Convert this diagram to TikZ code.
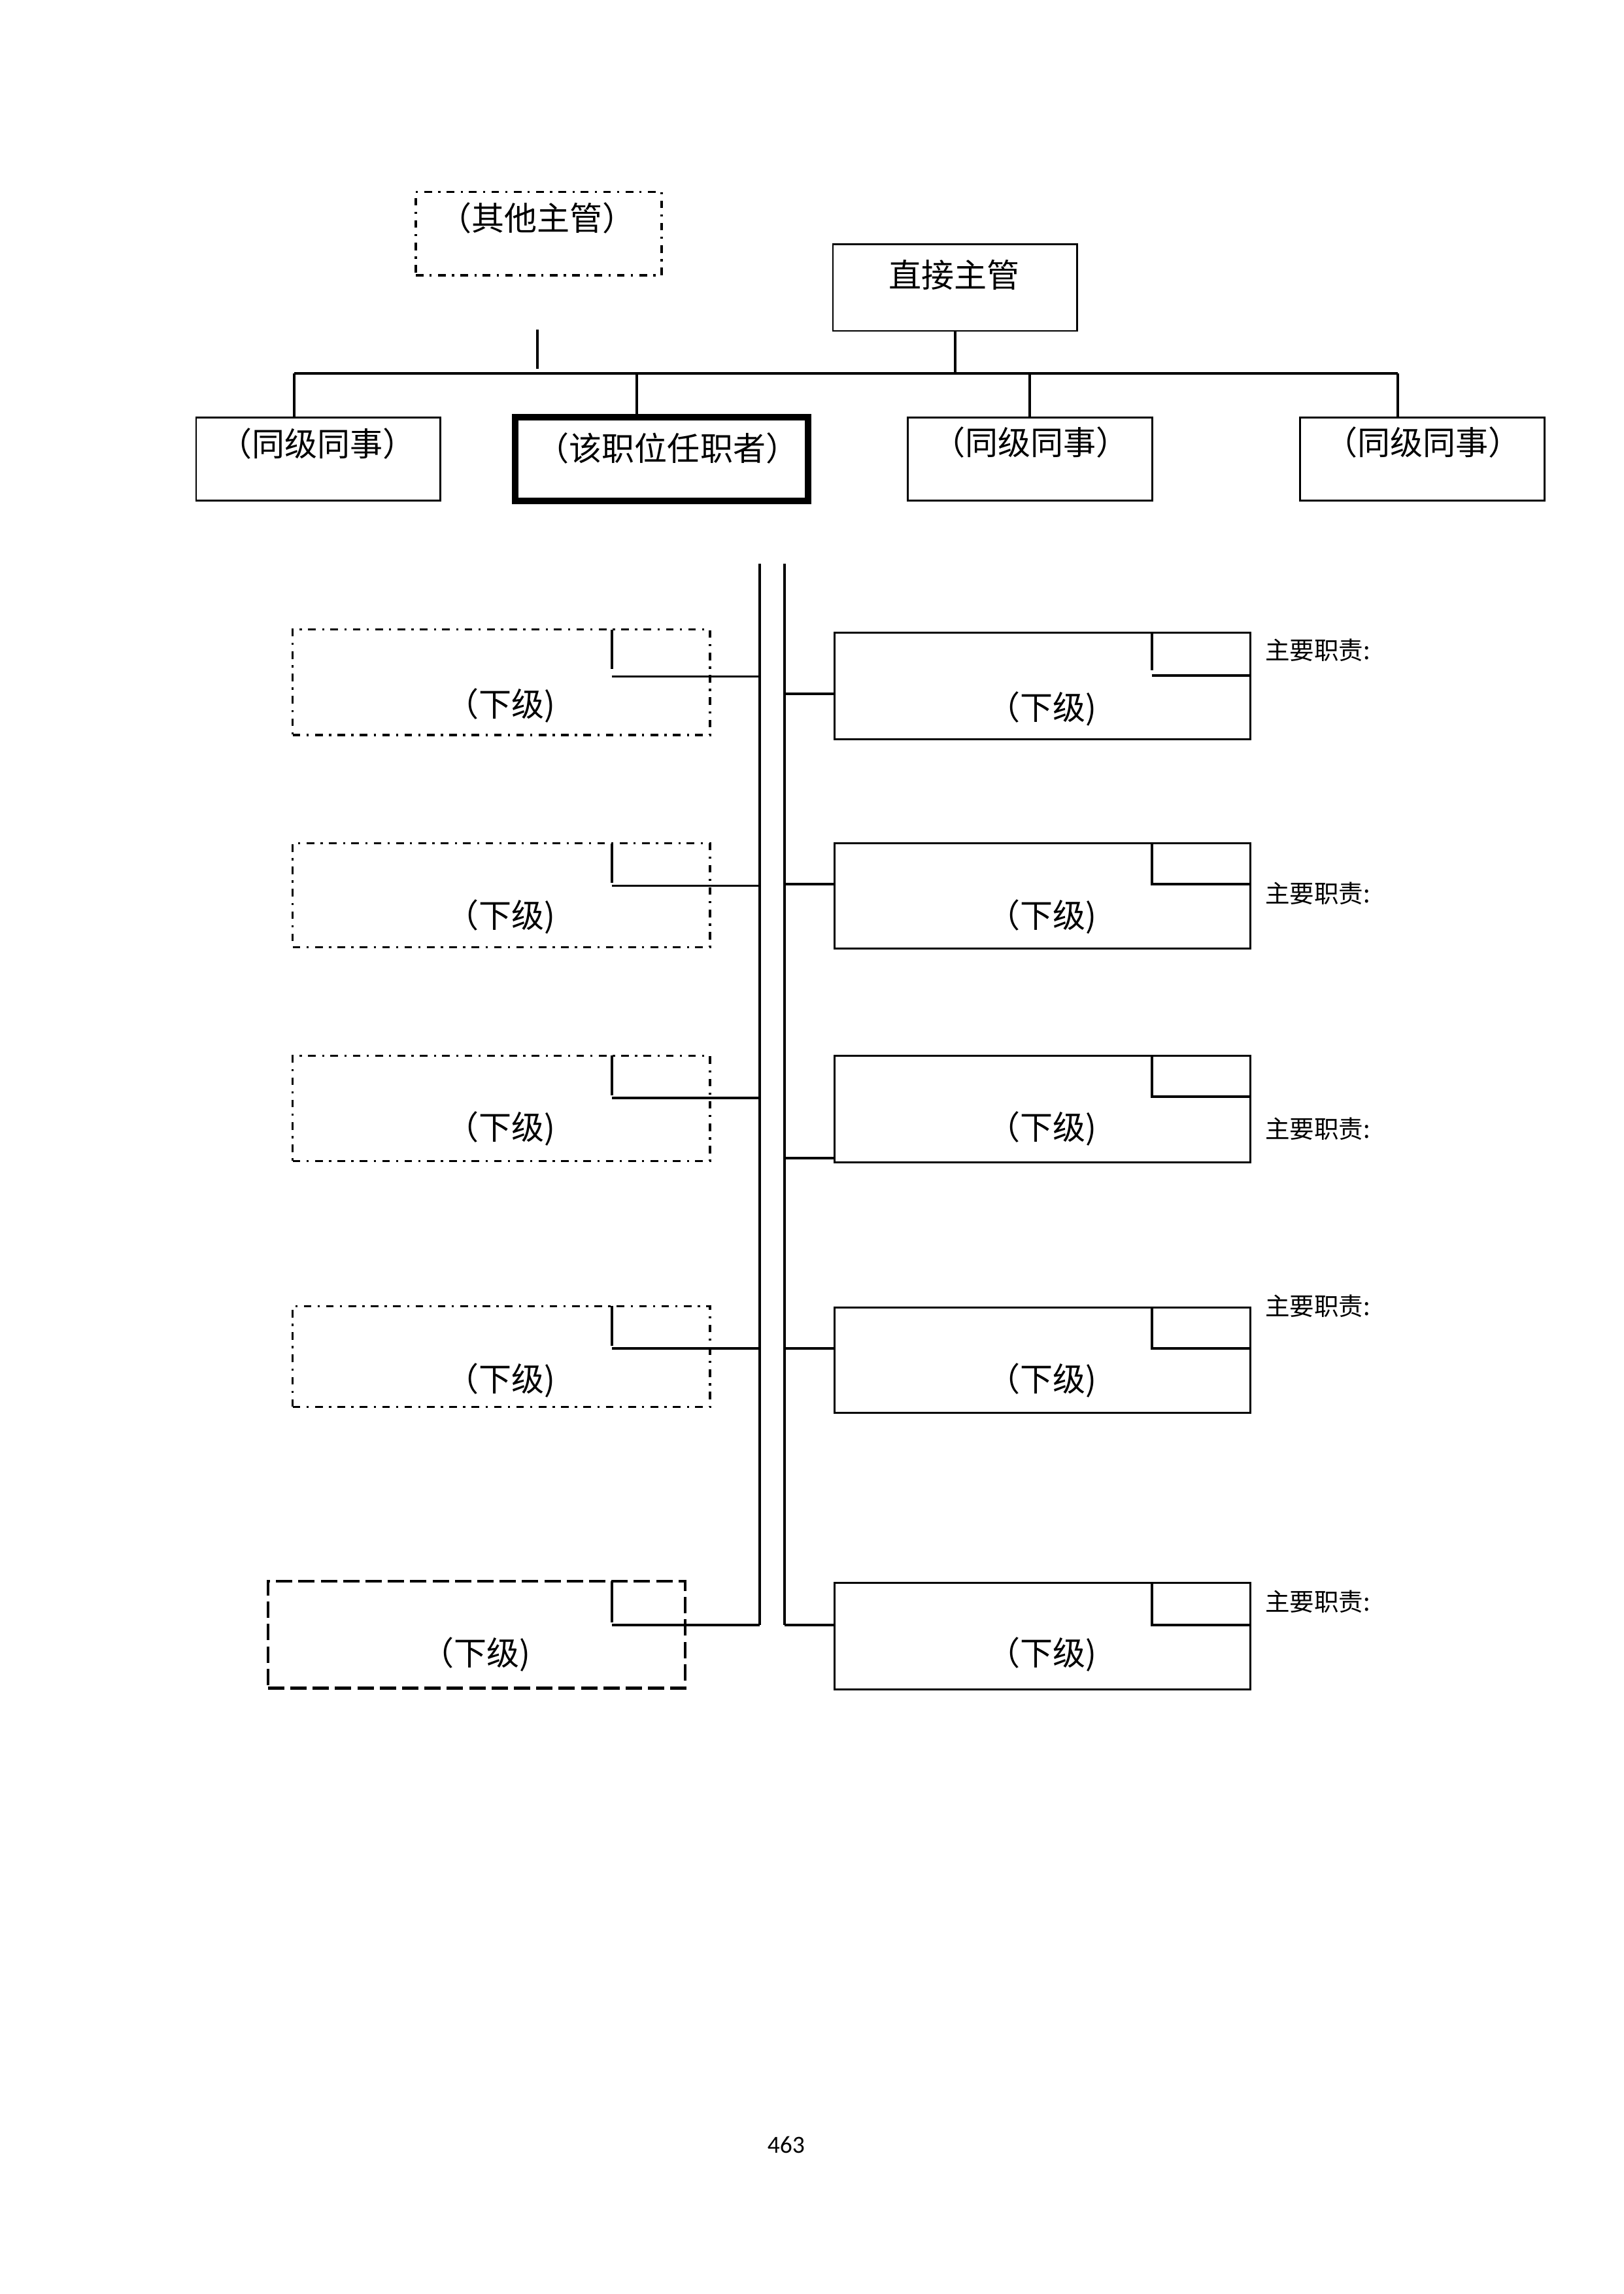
\documentclass[tikz,border=0pt]{standalone}
\usepackage{fontspec}
\setmainfont{Carlito}
\newfontfamily\cjk{Noto Sans CJK SC}
\tikzset{
  box/.style 2 args={draw, line width=0.7pt, anchor=north west, inner sep=0pt, outer sep=0pt,
    minimum width=#1*0.5368pt, minimum height=#2*0.5368pt},
  dashdot/.style={line width=0.8pt, dash pattern=on 2.8pt off 2.3pt on 0.8pt off 2.3pt},
  dashbox/.style={line width=1pt, dash pattern=on 6pt off 2.2pt},
  thickbox/.style={line width=2.5pt},
  txt/.style={font=\cjk\fontsize{12}{14}\selectfont, inner sep=0pt},
  duty/.style={font=\cjk\fontsize{9}{11}\selectfont, inner sep=0pt, anchor=west},
  conn/.style={line width=0.9pt}
}
\begin{document}
\begin{tikzpicture}[x=0.5368pt, y=-0.5368pt]
\useasboundingbox (0,0) rectangle (1109,1566.8);
% top row
\node[box={168}{57}, dashdot] (oth) at (284,131){};
\node[txt] (othtxt) at (367,149){（其他主管）};
\node[box={167}{59}] (boss) at (569,167){};
\node[txt] (bosstxt) at (652,188){直接主管};
\node[box={167}{57}] (peer1) at (134,285){};
\node[txt] (peer1txt) at (217,303){（同级同事）};
\node[box={200}{57}, thickbox] (self) at (352,285){};
\node[txt] (selftxt) at (456,306){（该职位任职者）};
\node[box={167}{57}] (peer2) at (620,285){};
\node[txt] (peer2txt) at (704,302){（同级同事）};
\node[box={167}{57}] (peer3) at (888,285){};
\node[txt] (peer3txt) at (972,302){（同级同事）};
\coordinate (busL) at (201,255);
\coordinate (busR) at (955,255);
\coordinate (busS) at (435,255);
\coordinate (othT) at (367,225);
\coordinate (othB) at (367,252);
\draw[conn](busL) -- (busR);
\draw[conn](boss.south) -- (boss.south |- busL);
\draw[conn](busL) -- (busL |- peer1.north);
\draw[conn](busS) -- (busS |- self.north);
\draw[conn](peer2.north |- busL) -- (peer2.north);
\draw[conn](busR) -- (busR |- peer3.north);
\draw[conn](othT) -- (othB);
% spines
\coordinate (spL) at (519,385);
\coordinate (spLb) at (519,1110);
\coordinate (spR) at (536,385);
\coordinate (spRb) at (536,1110);
\draw[conn](spL) -- (spLb);
\draw[conn](spR) -- (spRb);
% left column
\node[box={285}{72}, dashdot] (sub1) at (200,430){};
\node[txt] (sub1txt) at (342,482){（下级)};
\coordinate (sub1k) at (418,462);
\draw[conn](sub1k |- sub1.north) -- ++(0,27);
\draw[conn](sub1k) -- (sub1k -| spL);
\node[box={285}{71}, dashdot] (sub2) at (200,576){};
\node[txt] (sub2txt) at (342,626){（下级)};
\coordinate (sub2k) at (418,605);
\draw[conn](sub2k |- sub2.north) -- ++(0,27);
\draw[conn](sub2k) -- (sub2k -| spL);
\node[box={285}{72}, dashdot] (sub3) at (200,721){};
\node[txt] (sub3txt) at (342,771){（下级)};
\coordinate (sub3k) at (418,750);
\draw[conn](sub3k |- sub3.north) -- ++(0,27);
\draw[conn](sub3k) -- (sub3k -| spL);
\node[box={285}{69}, dashdot] (sub4) at (200,892){};
\node[txt] (sub4txt) at (342,943){（下级)};
\coordinate (sub4k) at (418,921);
\draw[conn](sub4k |- sub4.north) -- ++(0,27);
\draw[conn](sub4k) -- (sub4k -| spL);
\node[box={285}{73}, dashbox] (sub5) at (183,1080){};
\node[txt] (sub5txt) at (325,1130){（下级)};
\coordinate (sub5k) at (418,1110);
\draw[conn](sub5k |- sub5.north) -- ++(0,28);
\draw[conn](sub5k) -- (sub5k -| spL);
% right column
\node[box={284}{73}] (rsub1) at (570,432){};
\node[txt] (rsub1txt) at (712,484){（下级)};
\node[duty] (duty1) at (864,444){主要职责:};
\coordinate (rsub1k) at (787,461.5);
\coordinate (rsub1c) at (536,474);
\draw[conn](rsub1k |- rsub1.north) -- ++(0,26);
\draw[conn](rsub1k) -- (rsub1k -| rsub1.east);
\draw[conn](rsub1c) -- (rsub1c -| rsub1.west);
\node[box={284}{72}] (rsub2) at (570,576){};
\node[txt] (rsub2txt) at (712,626){（下级)};
\node[duty] (duty2) at (864,610){主要职责:};
\coordinate (rsub2k) at (787,604);
\coordinate (rsub2c) at (536,604);
\draw[conn](rsub2k |- rsub2.north) -- (rsub2k) -- (rsub2k -| rsub2.east);
\draw[conn](rsub2c) -- (rsub2c -| rsub2.west);
\node[box={284}{73}] (rsub3) at (570,721){};
\node[txt] (rsub3txt) at (712,771){（下级)};
\node[duty] (duty3) at (864,771){主要职责:};
\coordinate (rsub3k) at (787,749);
\coordinate (rsub3c) at (536,791);
\draw[conn](rsub3k |- rsub3.north) -- (rsub3k) -- (rsub3k -| rsub3.east);
\draw[conn](rsub3c) -- (rsub3c -| rsub3.west);
\node[box={284}{72}] (rsub4) at (570,893){};
\node[txt] (rsub4txt) at (712,943){（下级)};
\node[duty] (duty4) at (864,892){主要职责:};
\coordinate (rsub4k) at (787,921);
\coordinate (rsub4c) at (536,921);
\draw[conn](rsub4k |- rsub4.north) -- (rsub4k) -- (rsub4k -| rsub4.east);
\draw[conn](rsub4c) -- (rsub4c -| rsub4.west);
\node[box={284}{73}] (rsub5) at (570,1081){};
\node[txt] (rsub5txt) at (712,1130){（下级)};
\node[duty] (duty5) at (864,1094){主要职责:};
\coordinate (rsub5k) at (787,1110);
\coordinate (rsub5c) at (536,1110);
\draw[conn](rsub5k |- rsub5.north) -- (rsub5k) -- (rsub5k -| rsub5.east);
\draw[conn](rsub5c) -- (rsub5c -| rsub5.west);
% page number
\node[font=\fontsize{9}{11}\selectfont, inner sep=0pt] (pageno) at (537,1465){463};
\end{tikzpicture}
\end{document}
